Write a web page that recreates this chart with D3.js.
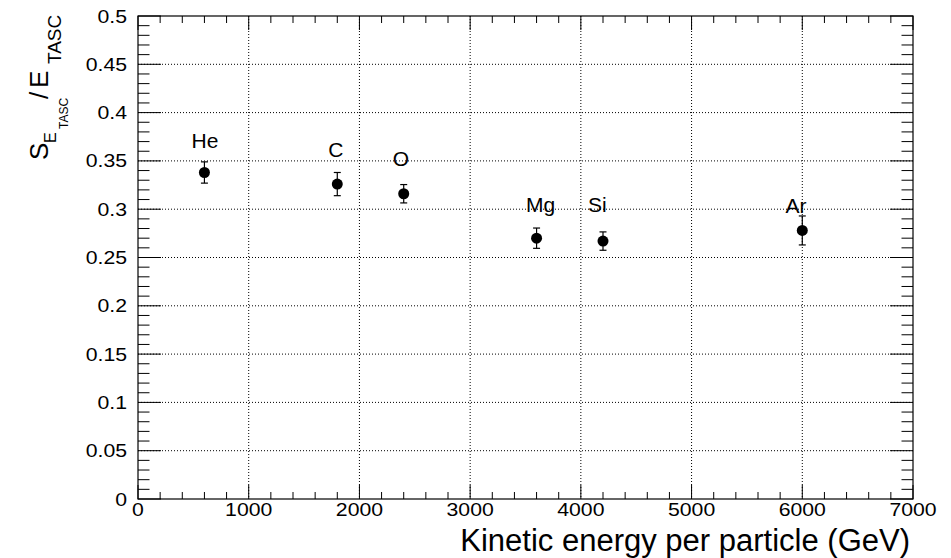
<!DOCTYPE html>
<html>
<head>
<meta charset="utf-8">
<script src="https://cdn.jsdelivr.net/npm/d3@7"></script>
<style>
  body { margin: 0; background: #fff; }
  text { font-family: "Liberation Sans", Arial, sans-serif; fill: #000; }
</style>
</head>
<body>
<div id="area"></div>
<script>
// nuclei, energy per particle and TASC resolution
let elements   = ["He", "C", "O", "Mg", "Si", "Ar"];
let energy     = [600, 1800, 2400, 3600, 4200, 6000];
let resolution = [0.338, 0.326, 0.316, 0.270, 0.267, 0.278];
let resError   = [0.011, 0.012, 0.0095, 0.0105, 0.0095, 0.015];

// where each nucleus name sits
let labelX = [605, 1788, 2375, 3636, 4150, 5943];
let labelY = [0.363, 0.354, 0.345, 0.297, 0.297, 0.296];

let xTickValues = [0, 1000, 2000, 3000, 4000, 5000, 6000, 7000];
let xTickLabels = ["0", "1000", "2000", "3000", "4000", "5000", "6000", "7000"];
let yTickValues = [0, 0.05, 0.1, 0.15, 0.2, 0.25, 0.3, 0.35, 0.4, 0.45, 0.5];
let yTickLabels = ["0", "0.05", "0.1", "0.15", "0.2", "0.25", "0.3", "0.35", "0.4", "0.45", "0.5"];

let margin = {
  top:    16,
  right:  38,
  bottom: 59,
  left:   138
};

let exteriorWidth  = 951,
    exteriorHeight = 558;

let interiorWidth  = exteriorWidth - margin.left - margin.right,
    interiorHeight = exteriorHeight - margin.top - margin.bottom;

let root =
  d3.select("#area")
    .append("svg")
      .attr("width", exteriorWidth)
      .attr("height", exteriorHeight);

let svg =
  root.append("g")
    .attr("transform", translate(margin.left, margin.top));

let x =
  d3.scaleLinear()
    .domain([0, 7000])
    .range([0, interiorWidth]);

let y =
  d3.scaleLinear()
    .domain([0, 0.5])
    .range([interiorHeight, 0]);

let stretch = 1.18;   // tick labels come out wider than plain Arial

// dotted grid
svg.append("g")
  .selectAll("line")
  .data(xTickValues.slice(1, -1))
  .join("line")
    .attr("x1", d => x(d)).attr("x2", d => x(d))
    .attr("y1", 0).attr("y2", interiorHeight)
    .attr("stroke", "#000")
    .attr("stroke-dasharray", "1,2");

svg.append("g")
  .selectAll("line")
  .data(yTickValues.slice(1, -1))
  .join("line")
    .attr("x1", 0).attr("x2", interiorWidth)
    .attr("y1", d => y(d)).attr("y2", d => y(d))
    .attr("stroke", "#000")
    .attr("stroke-dasharray", "1,2");

// ticks on all four sides, pointing inside
let xMinor = x.ticks(35),
    yMinor = y.ticks(50);

let isMajorX = d => Math.abs(d / 1000 - Math.round(d / 1000)) < 1e-6,
    isMajorY = d => Math.abs(d / 0.05 - Math.round(d / 0.05)) < 1e-6;

let ticks = svg.append("g").attr("stroke", "#000");

ticks.selectAll(".xb")
  .data(xMinor)
  .join("line")
    .attr("class", "xb")
    .attr("x1", d => x(d)).attr("x2", d => x(d))
    .attr("y1", interiorHeight)
    .attr("y2", d => interiorHeight - (isMajorX(d) ? 14 : 7));

ticks.selectAll(".xt")
  .data(xMinor)
  .join("line")
    .attr("class", "xt")
    .attr("x1", d => x(d)).attr("x2", d => x(d))
    .attr("y1", 0)
    .attr("y2", d => isMajorX(d) ? 14 : 7);

ticks.selectAll(".yl")
  .data(yMinor)
  .join("line")
    .attr("class", "yl")
    .attr("y1", d => y(d)).attr("y2", d => y(d))
    .attr("x1", 0)
    .attr("x2", d => isMajorY(d) ? 23 : 11.5);

ticks.selectAll(".yr")
  .data(yMinor)
  .join("line")
    .attr("class", "yr")
    .attr("y1", d => y(d)).attr("y2", d => y(d))
    .attr("x1", interiorWidth)
    .attr("x2", d => interiorWidth - (isMajorY(d) ? 23 : 11.5));

// frame
svg.append("rect")
  .attr("width", interiorWidth)
  .attr("height", interiorHeight)
  .attr("fill", "none")
  .attr("stroke", "#000")
  .attr("stroke-width", 1.2);

// tick labels
svg.append("g")
  .selectAll("text")
  .data(xTickValues)
  .join("text")
    .attr("transform", d => translate(x(d), interiorHeight + 17) + " scale(" + stretch + ",1)")
    .attr("text-anchor", "middle")
    .attr("font-size", 18)
    .text((d, i) => xTickLabels[i]);

svg.append("g")
  .selectAll("text")
  .data(yTickValues)
  .join("text")
    .attr("transform", d => translate(-11, y(d) + 6.5) + " scale(" + stretch + ",1)")
    .attr("text-anchor", "end")
    .attr("font-size", 18)
    .text((d, i) => yTickLabels[i]);

// error bars with small caps
let points = elements.map((e, i) => ({
  name: e, e: energy[i], r: resolution[i], err: resError[i]
}));

let bars = svg.append("g").attr("stroke", "#000").attr("stroke-width", 1.2);

bars.selectAll(".bar")
  .data(points)
  .join("line")
    .attr("class", "bar")
    .attr("x1", d => x(d.e)).attr("x2", d => x(d.e))
    .attr("y1", d => y(d.r - d.err)).attr("y2", d => y(d.r + d.err));

bars.selectAll(".capHi")
  .data(points)
  .join("line")
    .attr("class", "capHi")
    .attr("x1", d => x(d.e) - 3.5).attr("x2", d => x(d.e) + 3.5)
    .attr("y1", d => y(d.r + d.err)).attr("y2", d => y(d.r + d.err));

bars.selectAll(".capLo")
  .data(points)
  .join("line")
    .attr("class", "capLo")
    .attr("x1", d => x(d.e) - 3.5).attr("x2", d => x(d.e) + 3.5)
    .attr("y1", d => y(d.r - d.err)).attr("y2", d => y(d.r - d.err));

svg.append("g")
  .selectAll("circle")
  .data(points)
  .join("circle")
    .attr("cx", d => x(d.e))
    .attr("cy", d => y(d.r))
    .attr("r", 5.5)
    .attr("fill", "#000");

// nucleus names
svg.append("g")
  .selectAll("text")
  .data(elements)
  .join("text")
    .attr("x", (d, i) => x(labelX[i]))
    .attr("y", (d, i) => y(labelY[i]))
    .attr("text-anchor", "middle")
    .attr("font-size", 21)
    .text(d => d);

// axis titles
root.append("text")
  .attr("x", 910)
  .attr("y", 551)
  .attr("text-anchor", "end")
  .attr("font-size", 31)
  .text("Kinetic energy per particle (GeV)");

let yTitle =
  root.append("text")
    .attr("transform", "rotate(-90)");

// rotated frame: local x = -screen y, local y = screen x
yTitle.append("tspan").attr("x", -160).attr("y", 48).attr("font-size", 26).text("S");
yTitle.append("tspan").attr("x", -143).attr("y", 56).attr("font-size", 16).text("E");
yTitle.append("tspan").attr("x", -129).attr("y", 68).attr("font-size", 12).text("TASC");
yTitle.append("tspan").attr("x", -99).attr("y", 48).attr("font-size", 26).text("/");
yTitle.append("tspan").attr("x", -88).attr("y", 48).attr("font-size", 26).text("E");
yTitle.append("tspan").attr("x", -64).attr("y", 61).attr("font-size", 19).text("TASC");

function translate(x, y=0) {
  return "translate({x}, {y})"
          .replace("{x}", x)
          .replace("{y}", y);
}
</script>
</body>
</html>
